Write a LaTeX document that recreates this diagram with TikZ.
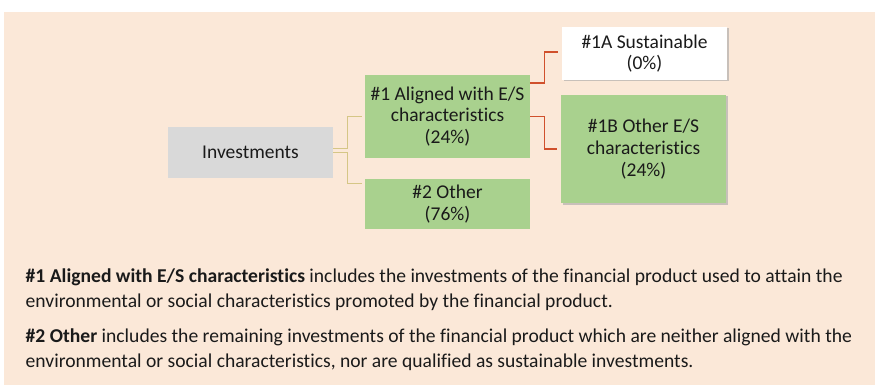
\documentclass[tikz,border=0pt]{standalone}
\usepackage{fontspec}
\setmainfont{Carlito}[Ligatures=NoCommon]
\usepackage{tikz}
\usetikzlibrary{positioning,calc,shadows}
\definecolor{peachbg}{HTML}{FBE8D8}
\definecolor{boxgray}{HTML}{D9D9D9}
\definecolor{boxgreen}{HTML}{A9D18E}
\definecolor{linetan}{HTML}{D5C686}
\definecolor{linered}{HTML}{D0502C}
\definecolor{inktext}{HTML}{1A1A1A}

\begin{document}
\begin{tikzpicture}[
    x=1pt, y=-1pt,
    box/.style={rectangle, minimum width=165pt, align=center, inner sep=2pt, text=inktext,
        font=\fontsize{19.5}{21.7}\selectfont},
    shadowbox/.style={box, drop shadow={shadow xshift=1.5pt, shadow yshift=-1.5pt, fill=black!35, opacity=0.6}},
    tanline/.style={draw=linetan, line width=1pt},
    redline/.style={draw=linered, line width=1.1pt},
    para/.style={anchor=base west, align=left, inner sep=0pt, text=inktext,
        font=\fontsize{19.6}{25}\selectfont}
]
    \useasboundingbox (0,0) rectangle (875,385);
    \fill[white] (0,0) rectangle (875,385);
    \fill[peachbg] (4,12) rectangle (875,385);

    \node[box, fill=boxgray, minimum height=51pt] (inv) at (250.5,152.5) {Investments};
    \node[box, fill=boxgreen, minimum height=83pt] (aligned) at (447.5,116.5) {\#1 Aligned with E/S\\characteristics\\(24\%)};
    \node[box, fill=boxgreen, minimum height=50pt] (other) at (447.5,204) {\#2 Other\\(76\%)};
    \node[shadowbox, fill=white, minimum height=53pt] (sust) at (644.5,53.5) {\#1A Sustainable\\(0\%)};
    \node[shadowbox, fill=boxgreen, minimum height=108pt] (otheres) at (643.5,149) {\#1B Other E/S\\characteristics\\(24\%)};

    \draw[tanline, shorten >=3pt] ([yshift=4.5pt]inv.east) -- ++(14,0) |- (aligned.west);
    \draw[tanline, shorten >=3pt] (inv.east) -- ++(14,0) |- ([yshift=21pt]other.west);
    \draw[redline, shorten >=4pt] ([yshift=33.5pt]aligned.east) -- ++(14,0) |- ([yshift=1.5pt]sust.west);
    \draw[redline, shorten >=4pt] (aligned.east) -- ++(14,0) |- (otheres.west);

    \node[para] (para1) at (25.5,307.7) {\textbf{\#1 Aligned with E/S characteristics} includes the investments of the financial product used to attain the\\environmental or social characteristics promoted by the financial product.};
    \node[para] (para2) at (25.5,367.3) {\textbf{\#2 Other} includes the remaining investments of the financial product which are neither aligned with the\\environmental or social characteristics, nor are qualified as sustainable investments.};
\end{tikzpicture}
\end{document}
